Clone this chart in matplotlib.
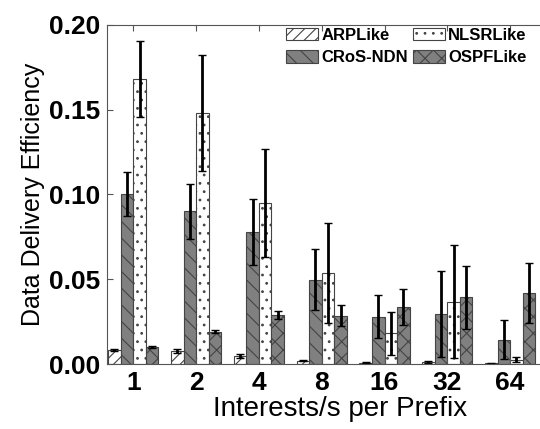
import numpy as np
import matplotlib
matplotlib.use("Agg")
import matplotlib.pyplot as plt

plt.rcParams['font.family'] = ['Liberation Sans', 'DejaVu Sans']
plt.rcParams['hatch.linewidth'] = 0.8

groups = ["1", "2", "4", "8", "16", "32", "64"]
series = ["ARPLike", "CRoS-NDN", "NLSRLike", "OSPFLike"]

arp = [0.0083, 0.0077, 0.0047, 0.0020, 0.0008, 0.0011, 0.0003]
arp_err = [0.0005, 0.0010, 0.0010, 0.0005, 0.0003, 0.0004, 0.0002]
cros = [0.100, 0.090, 0.078, 0.0497, 0.028, 0.0296, 0.0142]
cros_err = [0.013, 0.016, 0.0195, 0.018, 0.0125, 0.0255, 0.0115]
nlsr = [0.168, 0.148, 0.095, 0.0538, 0.018, 0.0367, 0.0024]
nlsr_err = [0.0225, 0.034, 0.032, 0.0295, 0.0125, 0.0332, 0.0015]
ospf = [0.0102, 0.019, 0.029, 0.0286, 0.0337, 0.0394, 0.0418]
ospf_err = [0.0005, 0.001, 0.0025, 0.006, 0.0105, 0.0185, 0.0178]

values = [arp, cros, nlsr, ospf]
errors = [arp_err, cros_err, nlsr_err, ospf_err]
colors = ["white", "#808080", "white", "#808080"]
hatches = ["///", "\\\\", "..", "xx"]

fig = plt.figure(figsize=(5.4, 4.29), dpi=100)
# axes runs past the right edge, like the cropped original
ax = fig.add_axes([0.198, 0.1515, 0.863, 0.7905])

x = np.arange(len(groups))
w = 0.2
for i in range(4):
    ax.bar(x + (i - 1.5) * w, values[i], w, yerr=errors[i],
           color=colors[i], edgecolor="#444444", linewidth=0.8,
           hatch=hatches[i], label=series[i],
           error_kw=dict(ecolor="black", elinewidth=2, capsize=3, capthick=1))

ax.set_xlim(-0.42, 7.0)
ax.set_ylim(0, 0.20)
ax.set_yticks([0, 0.05, 0.10, 0.15, 0.20])
ax.set_yticklabels(["0.00", "0.05", "0.10", "0.15", "0.20"])
ax.set_xticks(x)
ax.set_xticklabels(groups)
ax.tick_params(direction="in", top=True, right=True, length=4, color="#555555",
               labelsize=19, pad=5)
for lab in ax.get_xticklabels() + ax.get_yticklabels():
    lab.set_fontweight("bold")
for s in ax.spines.values():
    s.set_color("#555555")

ax.set_ylabel("Data Delivery Efficiency", fontsize=18, labelpad=3)
ax.set_xlabel("Interests/s per Prefix", fontsize=20, labelpad=1)

leg = ax.legend(ncol=2, loc="upper left", bbox_to_anchor=(0.515, 0.955),
                bbox_transform=fig.transFigure, frameon=False,
                prop=dict(size=12, weight="bold"), handlelength=1.9,
                handleheight=0.8, handletextpad=0.2, columnspacing=0.3,
                labelspacing=0.45, borderpad=0)

fig.savefig("out.png", dpi=100)
